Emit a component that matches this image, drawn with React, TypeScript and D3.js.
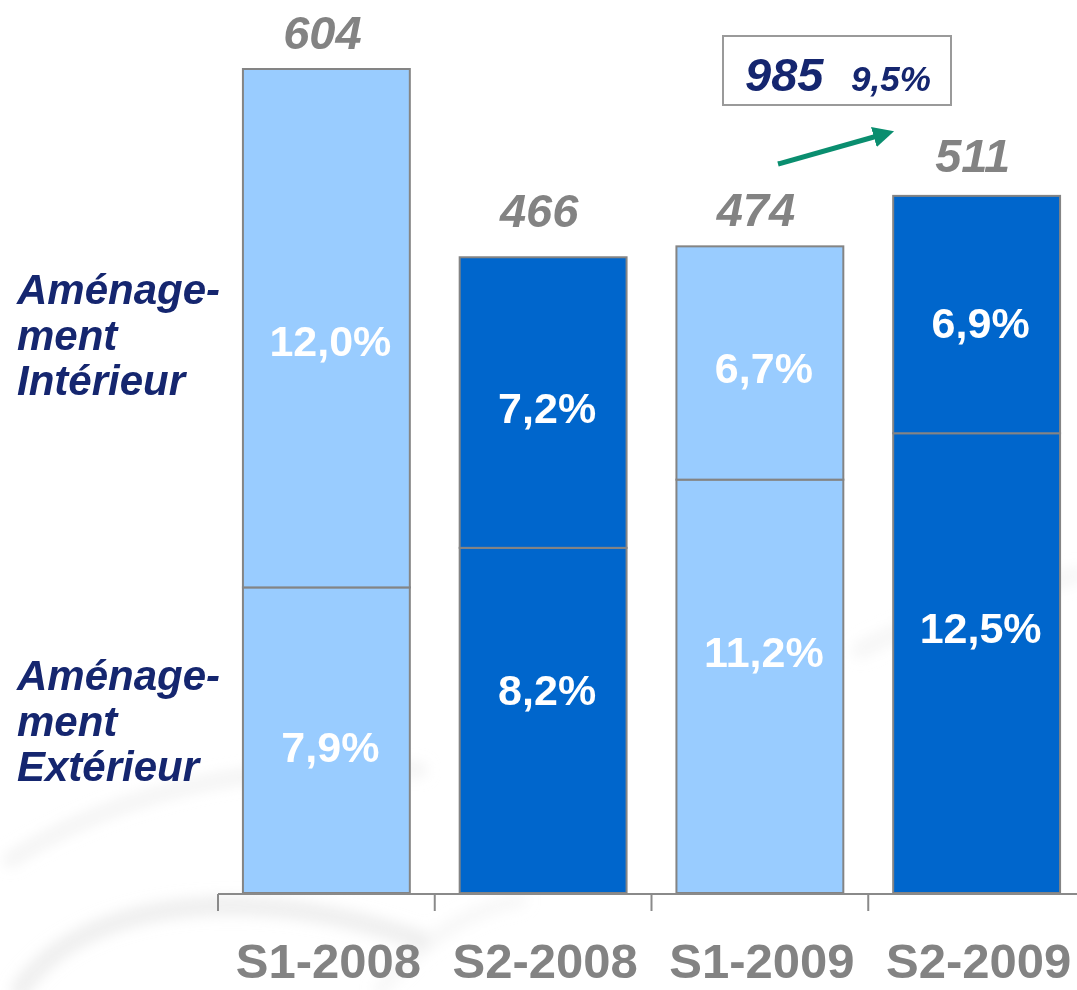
import React from "react";
import * as d3 from "d3";

const categories = ["S1-2008", "S2-2008", "S1-2009", "S2-2009"];
const exterieurValues = [224, 253, 303, 337];
const interieurValues = [380, 213, 171, 174];
const totals = [604, 466, 474, 511];
const exterieurPct = ["7,9%", "8,2%", "11,2%", "12,5%"];
const interieurPct = ["12,0%", "7,2%", "6,7%", "6,9%"];
const semester = ["S1", "S2", "S1", "S2"];
const annualTotal = "985";
const annualPct = "9,5%";
const seriesLabels = [["Aménage-", "ment", "Intérieur"], ["Aménage-", "ment", "Extérieur"]];

const W = 1077;
const H = 990;
const LIGHT = "#99CCFF";
const DARK = "#0066CC";
const EDGE = "#848484";
const NAVY = "#15266F";
const GREY_TXT = "#838383";
const FONT = "'Liberation Sans', Arial, Helvetica, sans-serif";

// layout nudges (pixels) for inner and total labels
const topNudge = [13, 5, 5, 8];
const bottomNudge = [7, -30, -34, -35];
const totalGap = [20, 30, 20, 24];

export default function App() {
  const x = d3.scaleBand<string>().domain(categories).range([218, 1085]).paddingInner(0.23).paddingOuter(0.115);
  const y = d3.scaleLinear().domain([0, 604]).range([893, 69]);
  const bw = x.bandwidth();
  const step = x.step();

  return (
    <svg width={W} height={H} viewBox={`0 0 ${W} ${H}`} style={{ position: "absolute", left: 0, top: 0, background: "#fff" }}>
      <defs>
        <filter id="blur" x="-20%" y="-20%" width="140%" height="140%">
          <feGaussianBlur stdDeviation="7" />
        </filter>
        <marker id="arrow" viewBox="0 0 10 10" refX="7" refY="5" markerWidth="4.2" markerHeight="4.2" orient="auto">
          <path d="M0,0 L10,5 L0,10 z" fill="#0A8E6F" />
        </marker>
      </defs>

      {/* faint background swooshes */}
      <g filter="url(#blur)" fill="none" strokeLinecap="round">
        <path d="M10,860 C120,790 260,760 420,770" stroke="#e9e9e9" strokeWidth="14" opacity="0.55" />
        <path d="M20,990 C80,900 250,880 420,940" stroke="#dedede" strokeWidth="18" opacity="0.5" />
        <path d="M860,650 C940,610 1010,590 1077,575" stroke="#eeeeee" strokeWidth="16" opacity="0.5" />
        <path d="M380,990 C420,940 470,910 520,900" stroke="#ebebeb" strokeWidth="14" opacity="0.4" />
      </g>

      {/* bars */}
      {categories.map((c, i) => {
        const x0 = x(c)!;
        const fill = semester[i] === "S1" ? LIGHT : DARK;
        const yBase = y(0);
        const ySplit = y(exterieurValues[i]);
        const yTop = y(exterieurValues[i] + interieurValues[i]);
        const cx = x0 + bw / 2;
        return (
          <g key={c}>
            <rect x={x0} y={ySplit} width={bw} height={yBase - ySplit} fill={fill} stroke={EDGE} strokeWidth={2} />
            <rect x={x0} y={yTop} width={bw} height={ySplit - yTop} fill={fill} stroke={EDGE} strokeWidth={2} />
            <text x={cx + 4} y={(yTop + ySplit) / 2 + topNudge[i] + 15} textAnchor="middle" fill="#fff"
              fontFamily={FONT} fontWeight="bold" fontSize={43}>{interieurPct[i]}</text>
            <text x={cx + 4} y={(ySplit + yBase) / 2 + bottomNudge[i] + 15} textAnchor="middle" fill="#fff"
              fontFamily={FONT} fontWeight="bold" fontSize={43}>{exterieurPct[i]}</text>
            <text x={cx - 4} y={y(totals[i]) - totalGap[i]} textAnchor="middle" fill={GREY_TXT}
              fontFamily={FONT} fontWeight="bold" fontStyle="italic" fontSize={47}>{totals[i]}</text>
          </g>
        );
      })}

      {/* axis */}
      <g stroke="#8a8a8a" strokeWidth={2}>
        <line x1={218} x2={W} y1={y(0) + 1} y2={y(0) + 1} />
        {categories.map((c, i) => {
          const tx = 218 + i * step;
          return <line key={c} x1={tx} x2={tx} y1={y(0) + 1} y2={y(0) + 18} />;
        })}
      </g>
      {categories.map((c) => (
        <text key={c} x={x(c)! + bw / 2 + 2} y={978} textAnchor="middle" fill={GREY_TXT}
          fontFamily={FONT} fontWeight="bold" fontSize={49}>{c}</text>
      ))}

      {/* series labels */}
      {seriesLabels.map((lines, k) => (
        <text key={k} fill={NAVY} fontFamily={FONT} fontWeight="bold" fontStyle="italic" fontSize={42}>
          {lines.map((l, j) => (
            <tspan key={j} x={17} y={(k === 0 ? 304 : 690) + j * 45.5}>{l}</tspan>
          ))}
        </text>
      ))}

      {/* annual total box & arrow */}
      <rect x={723} y={36} width={228} height={69} fill="#fff" stroke="#9a9a9a" strokeWidth={2} />
      <text x={745} y={91} fill={NAVY} fontFamily={FONT} fontWeight="bold" fontStyle="italic" fontSize={47}>{annualTotal}</text>
      <text x={851} y={91} fill={NAVY} fontFamily={FONT} fontWeight="bold" fontStyle="italic" fontSize={35}>{annualPct}</text>
      <line x1={778} y1={164} x2={888} y2={133} stroke="#0A8E6F" strokeWidth={5} markerEnd="url(#arrow)" />
    </svg>
  );
}
